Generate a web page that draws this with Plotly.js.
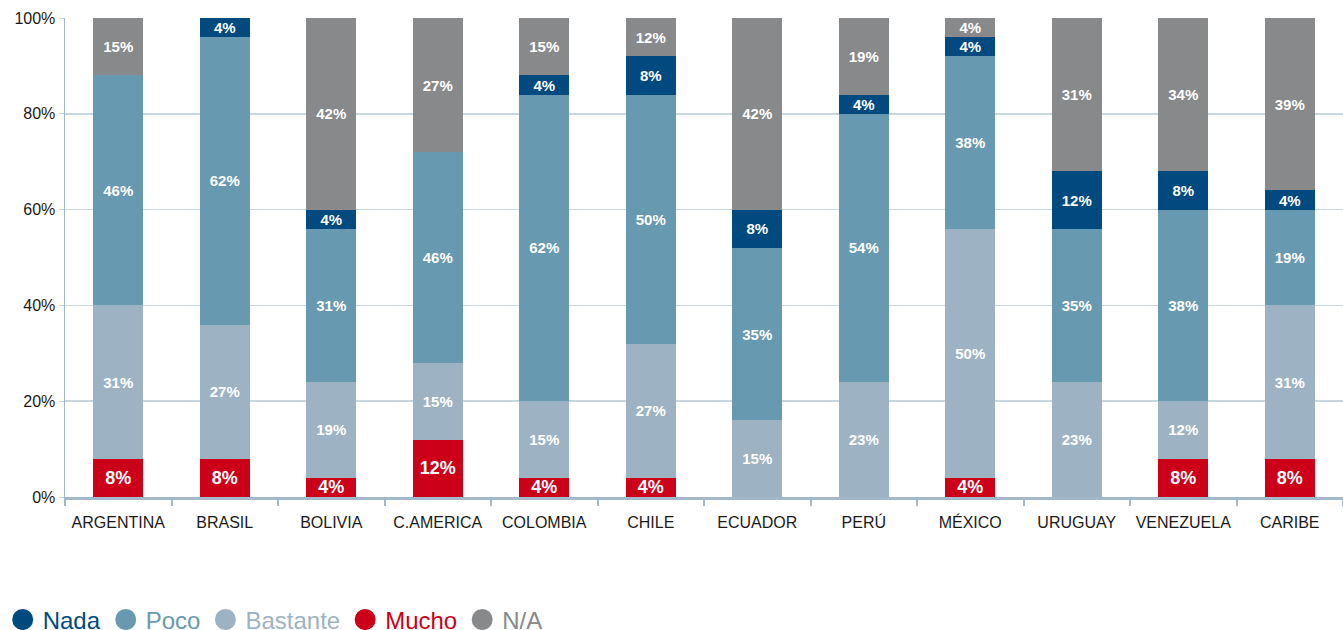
<!DOCTYPE html>
<html>
<head>
<meta charset="utf-8">
<script src="https://cdn.plot.ly/plotly-3.0.1.min.js"></script>
<style>
  body { margin: 0; background: #fff; }
  #chart { width: 1343px; height: 630px; }
</style>
</head>
<body>
<div id="chart"></div>
<script>
// countries / regions
var paises = ["ARGENTINA", "BRASIL", "BOLIVIA", "C.AMERICA", "COLOMBIA", "CHILE",
  "ECUADOR", "PERÚ", "MÉXICO", "URUGUAY", "VENEZUELA", "CARIBE"];

// segment heights as drawn (share of 100%)
var mucho    = [8, 8, 4, 12, 4, 4, 0, 0, 4, 0, 8, 8];
var bastante = [32, 28, 20, 16, 16, 28, 16, 24, 52, 24, 12, 32];
var poco     = [48, 60, 32, 44, 64, 52, 36, 56, 36, 32, 40, 20];
var nada     = [0, 4, 4, 0, 4, 8, 8, 4, 4, 12, 8, 4];
var na       = [12, 0, 40, 28, 12, 8, 40, 16, 4, 32, 32, 36];

// labels printed on the segments
var muchoTxt    = ["8%", "8%", "4%", "12%", "4%", "4%", "", "", "4%", "", "8%", "8%"];
var bastanteTxt = ["31%", "27%", "19%", "15%", "15%", "27%", "15%", "23%", "50%", "23%", "12%", "31%"];
var pocoTxt     = ["46%", "62%", "31%", "46%", "62%", "50%", "35%", "54%", "38%", "35%", "38%", "19%"];
var nadaTxt     = ["", "4%", "4%", "", "4%", "8%", "8%", "4%", "4%", "12%", "8%", "4%"];
var naTxt       = ["15%", "", "42%", "27%", "15%", "12%", "42%", "19%", "4%", "31%", "34%", "39%"];

var colores = {
  nada: "#004a80",
  poco: "#6799b0",
  bastante: "#9db3c3",
  mucho: "#cc0019",
  na: "#88898b"
};

function barra(nombre, y, txt, color, size) {
  return {
    type: "bar",
    name: nombre,
    x: paises,
    y: y,
    text: txt,
    textposition: "inside",
    insidetextanchor: "middle",
    constraintext: "none",
    textangle: 0,
    textfont: {family: "Liberation Sans, Arial, sans-serif", size: size, color: "#ffffff", weight: "bold"},
    marker: {color: color, line: {width: 0}},
    showlegend: false,
    hoverinfo: "skip"
  };
}

// legend entries only (round symbols)
function leyenda(nombre, color) {
  return {
    type: "scatter",
    mode: "markers",
    x: [null],
    y: [null],
    name: '<span style="color:' + color + '">' + nombre + '</span>',
    marker: {symbol: "circle", size: 16, color: color, line: {color: color, width: 5}},
    hoverinfo: "skip"
  };
}

var data = [
  barra("Mucho", mucho, muchoTxt, colores.mucho, 18),
  barra("Bastante", bastante, bastanteTxt, colores.bastante, 15),
  barra("Poco", poco, pocoTxt, colores.poco, 15),
  barra("Nada", nada, nadaTxt, colores.nada, 15),
  barra("N/A", na, naTxt, colores.na, 15),
  leyenda("Nada", colores.nada),
  leyenda("Poco", colores.poco),
  leyenda("Bastante", colores.bastante),
  leyenda("Mucho", colores.mucho),
  leyenda("N/A", colores.na)
];

var layout = {
  width: 1343,
  height: 630,
  margin: {l: 65, r: 0, t: 18, b: 133},
  paper_bgcolor: "#ffffff",
  plot_bgcolor: "#ffffff",
  barmode: "stack",
  bargap: 0.53,
  font: {family: "Liberation Sans, Arial, sans-serif", color: "#1a1a1a", size: 16},
  xaxis: {
    type: "category",
    showgrid: false,
    showline: true,
    linecolor: "#a3b8c8",
    linewidth: 3,
    ticks: "outside",
    tickson: "boundaries",
    ticklen: 6,
    tickwidth: 2,
    tickcolor: "#a3b8c8",
    ticklabelstandoff: 9,
    tickfont: {size: 16, color: "#1a1a1a"},
    fixedrange: true
  },
  yaxis: {
    range: [0, 100],
    tickvals: [0, 20, 40, 60, 80, 100],
    ticktext: ["0%", "20%", "40%", "60%", "80%", "100%"],
    showgrid: true,
    gridcolor: "#c8d6e0",
    gridwidth: 1.5,
    zeroline: false,
    showline: true,
    linecolor: "#a3b8c8",
    linewidth: 1.5,
    ticks: "outside",
    ticklen: 5,
    tickcolor: "#c8d6e0",
    tickfont: {size: 16, color: "#1a1a1a"},
    fixedrange: true
  },
  showlegend: true,
  legend: {
    orientation: "h",
    xref: "container",
    yref: "container",
    x: 0.002,
    xanchor: "left",
    y: 0.016,
    yanchor: "middle",
    font: {size: 24, family: "Liberation Sans, Arial, sans-serif"},
    bgcolor: "rgba(0,0,0,0)",
    traceorder: "normal"
  }
};

Plotly.newPlot("chart", data, layout, {displayModeBar: false, staticPlot: true});
</script>
</body>
</html>
